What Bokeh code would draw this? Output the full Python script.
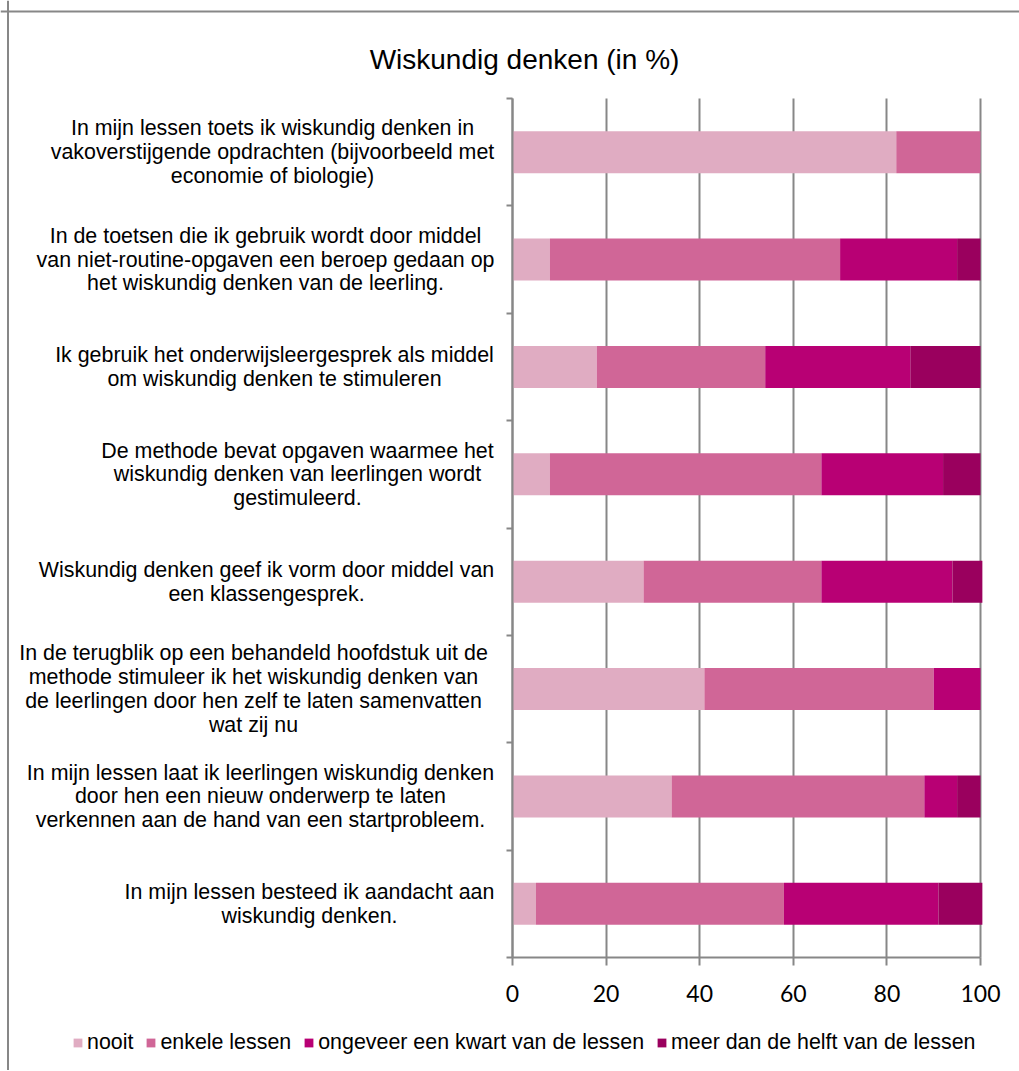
from bokeh.plotting import figure
from bokeh.models import (Range1d, FixedTicker, Label, ColumnDataSource, LinearAxis,
                          Grid, Span)
from bokeh.embed import file_html
from bokeh.resources import INLINE

title_text = "Wiskundig denken (in %)"

categories = [
    "In mijn lessen toets ik wiskundig denken in\nvakoverstijgende opdrachten (bijvoorbeeld met\neconomie of biologie)",
    "In de toetsen die ik gebruik wordt door middel\nvan niet-routine-opgaven een beroep gedaan op\nhet wiskundig denken van de leerling.",
    "Ik gebruik het onderwijsleergesprek als middel\nom wiskundig denken te stimuleren",
    "De methode bevat opgaven waarmee het\nwiskundig denken van leerlingen wordt\ngestimuleerd.",
    "Wiskundig denken geef ik vorm door middel van\neen klassengesprek.",
    "In de terugblik op een behandeld hoofdstuk uit de\nmethode stimuleer ik het wiskundig denken van\nde leerlingen door hen zelf te laten samenvatten\nwat zij nu",
    "In mijn lessen laat ik leerlingen wiskundig denken\ndoor hen een nieuw onderwerp te laten\nverkennen aan de hand van een startprobleem.",
    "In mijn lessen besteed ik aandacht aan\nwiskundig denken.",
]

series_names = ["nooit", "enkele lessen", "ongeveer een kwart van de lessen",
                "meer dan de helft van de lessen"]
nooit = [82, 8, 18, 8, 28, 41, 34, 5]
enkele = [18, 62, 36, 58, 38, 49, 54, 53]
kwart = [0, 25, 31, 26, 28, 10, 7, 33]
meer = [0, 5, 15, 8, 6.4, 0, 5, 9.4]
x_ticks = [0, 20, 40, 60, 80, 100]

colors = ["#E0ACC2", "#D06697", "#B80074", "#9A005E"]

# ---- layout constants (screen px) ----
W, H = 1019, 1070
plot_left, plot_right = 512, 980      # x = 0 .. 100
plot_top, plot_bottom = 98, 957       # y = n .. 0
label_centers = [272, 265, 274, 297, 266, 253, 260, 309]
title_cx, title_base = 524, 59
legend_x, legend_bottom = 72, 1055
border_x, border_y = 7.5, 11

n = len(categories)
ypos = [n - i - 0.5 for i in range(n)]

px_x = (plot_right - plot_left) / 100.0
px_y = (plot_bottom - plot_top) / float(n)
x_range = Range1d(-plot_left / px_x, 100 + (W - plot_right) / px_x)
y_range = Range1d(-(H - plot_bottom) / px_y, n + plot_top / px_y)

source = ColumnDataSource(dict(y=ypos, nooit=nooit, enkele=enkele, kwart=kwart, meer=meer))

p = figure(width=W, height=H, output_backend="svg", toolbar_location=None,
           x_range=x_range, y_range=y_range, title=None,
           x_axis_type=None, y_axis_type=None)
p.min_border = 0
p.min_border_left = 0
p.min_border_right = 0
p.min_border_top = 0
p.min_border_bottom = 0
p.outline_line_color = None
p.background_fill_color = "white"
p.border_fill_color = "white"

grid_col = "#878787"
grid = Grid(dimension=0, ticker=FixedTicker(ticks=x_ticks), bounds=(0, 100),
            cross_bounds=(0, n), grid_line_color=grid_col, grid_line_width=2,
            level="underlay")
p.add_layout(grid)

p.hbar_stack(["nooit", "enkele", "kwart", "meer"], y="y", height=0.39,
             color=colors, line_color=None, source=source, legend_label=series_names)

xa = LinearAxis(fixed_location=0, bounds=(0, 100), ticker=FixedTicker(ticks=x_ticks))
xa.axis_line_color = grid_col
xa.axis_line_width = 2
xa.major_tick_line_color = grid_col
xa.major_tick_line_width = 2
xa.major_tick_in = 0
xa.major_tick_out = 8
xa.minor_tick_line_color = None
xa.major_label_text_font = "Lato"
xa.major_label_text_font_size = "23px"
xa.major_label_text_color = "black"
xa.major_label_standoff = 19
p.add_layout(xa, "below")

ya = LinearAxis(fixed_location=0, bounds=(0, n), ticker=FixedTicker(ticks=list(range(n + 1))))
ya.axis_line_color = grid_col
ya.axis_line_width = 2
ya.major_tick_line_color = grid_col
ya.major_tick_line_width = 2
ya.major_tick_in = 0
ya.major_tick_out = 6
ya.minor_tick_line_color = None
ya.major_label_overrides = {i: "" for i in range(n + 1)}
p.add_layout(ya, "left")

for cat, yv, cx in zip(categories, ypos, label_centers):
    p.add_layout(Label(x=0, y=yv, x_offset=cx - plot_left, text=cat,
                       text_align="center", text_baseline="middle",
                       text_font="Liberation Sans", text_font_size="21.4px",
                       text_line_height=0.99, text_color="black"))

p.add_layout(Label(x=0, y=n, x_offset=title_cx - plot_left, y_offset=plot_top - title_base,
                   text=title_text, text_align="center", text_baseline="alphabetic",
                   text_font="Liberation Sans", text_font_size="28px", text_color="black"))

# chart border (left and top edges visible in the reference)
p.add_layout(Span(location=x_range.start + border_x / px_x, dimension="height",
                  line_color=grid_col, line_width=2))
p.add_layout(Span(location=y_range.end - border_y / px_y, dimension="width",
                  line_color=grid_col, line_width=2))

lg = p.legend[0]
lg.orientation = "horizontal"
lg.location = (legend_x, H - legend_bottom)
lg.glyph_width = 11
lg.glyph_height = 11
lg.label_standoff = 4
lg.spacing = 12
lg.padding = 0
lg.margin = 0
lg.border_line_color = None
lg.background_fill_alpha = 0
lg.label_text_font = "Liberation Sans"
lg.label_text_font_size = "21.4px"
lg.label_text_color = "black"

open("out.html", "w").write(file_html(p, INLINE))
